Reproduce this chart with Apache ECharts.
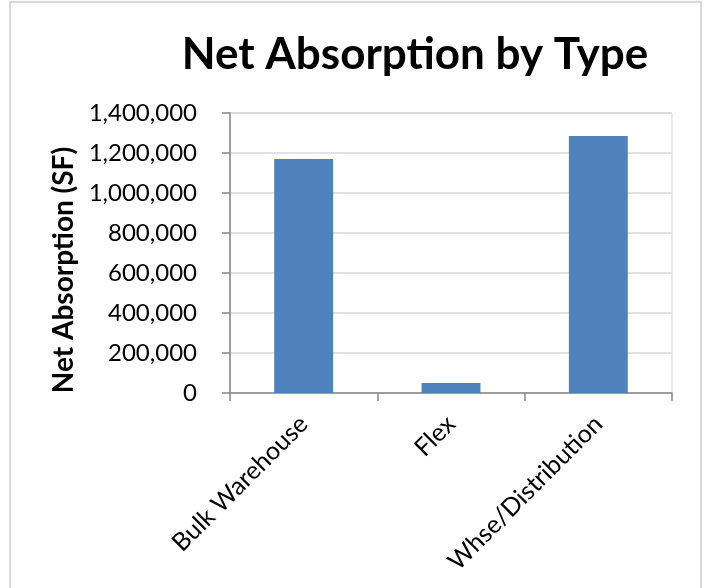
<!DOCTYPE html>
<html>
<head>
<meta charset="utf-8">
<style>
  html, body { margin: 0; padding: 0; background: #fff; }
  #chart { width: 706px; height: 588px; }
</style>
<script src="https://cdn.jsdelivr.net/npm/echarts@6/dist/echarts.min.js"></script>
</head>
<body>
<div id="chart"></div>
<script>
// Net absorption (square feet) by property type
const categories = ['Bulk Warehouse', 'Flex', 'Whse/Distribution'];
const absorption = [1170000, 50000, 1285000];
const yTicks = { min: 0, max: 1400000, step: 200000 };

const FONT = 'Lato, "Open Sans", sans-serif';

const chart = echarts.init(document.getElementById('chart'), null, { renderer: 'canvas' });

chart.setOption({
  animation: false,
  backgroundColor: '#ffffff',
  title: {
    text: 'Net Absorption by Type',
    left: 410,
    textAlign: 'center',
    top: 28,
    textStyle: { fontFamily: FONT, fontWeight: 'bold', fontSize: 44, color: '#000' }
  },
  graphic: [{
    type: 'rect',
    shape: { x: 10, y: 2, width: 691, height: 600 },
    style: { fill: 'none', stroke: '#d9d9d9', lineWidth: 2 },
    silent: true
  }],
  grid: {
    left: 230, right: 34, top: 113, bottom: 195,
    show: true, borderColor: '#d9d9d9', borderWidth: 1
  },
  xAxis: {
    type: 'category',
    data: categories,
    axisLine: { lineStyle: { color: '#868686', width: 1.5 } },
    axisTick: { show: true, length: 8, lineStyle: { color: '#868686', width: 1.5 } },
    axisLabel: {
      rotate: 45, interval: 0, margin: 27,
      fontFamily: FONT, fontSize: 25, color: '#000'
    }
  },
  yAxis: {
    type: 'value',
    min: yTicks.min, max: yTicks.max, interval: yTicks.step,
    name: 'Net Absorption (SF)',
    nameLocation: 'middle',
    nameRotate: 90,
    nameGap: 152,
    nameTextStyle: { fontFamily: FONT, fontWeight: 'bold', fontSize: 28, color: '#000', padding: [0, 0, 0, -34] },
    axisLine: { show: true, lineStyle: { color: '#868686', width: 1.5 } },
    axisTick: { show: true, length: 8, lineStyle: { color: '#868686', width: 1.5 } },
    splitLine: { lineStyle: { color: '#d9d9d9', width: 1.5 } },
    axisLabel: {
      margin: 33,
      fontFamily: FONT, fontSize: 24, color: '#000',
      formatter: v => v.toLocaleString('en-US')
    }
  },
  series: [{
    type: 'bar',
    data: absorption,
    barWidth: '40%',
    itemStyle: { color: '#4F81BD' }
  }]
});
</script>
</body>
</html>
